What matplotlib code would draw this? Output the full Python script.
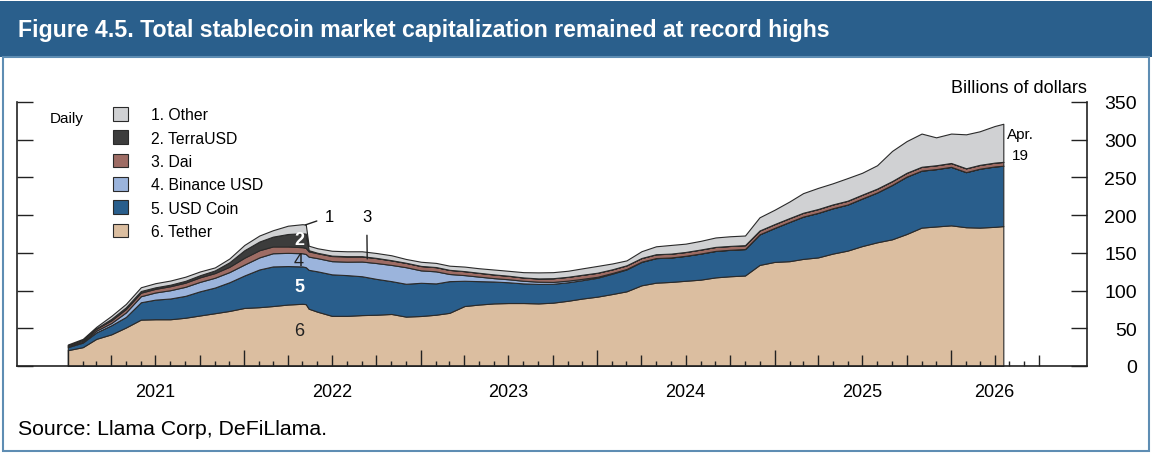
import pandas as pd
import matplotlib.pyplot as plt
import matplotlib.dates as mdates
from matplotlib.patches import Rectangle, Patch

plt.rcParams['font.family'] = ['Liberation Sans', 'DejaVu Sans']

W, H = 1158, 460


def px(x, y):
    # pixel position -> figure fraction
    return x / W, 1 - y / H


# monthly (start of month) plus a couple of extra days around the TerraUSD collapse
months = pd.date_range('2021-01-01', '2026-04-01', freq='MS')
dates = (months[:17]
         .append(pd.DatetimeIndex(['2022-05-08', '2022-05-14']))
         .append(months[17:])
         .append(pd.DatetimeIndex(['2026-04-19'])))

# billions of dollars
tether = [21, 25, 36, 42, 51, 61.5, 62, 62, 64, 67, 70, 73, 77, 78, 79.5, 81.5, 82.5,
          82, 76,
          72, 66.5, 66.5, 67.5, 68, 69, 65.5, 66.3, 68, 70.5, 79.5, 81.5, 83, 83.5, 83.5, 83,
          84, 86.5, 89.5, 92, 95.5, 99, 107, 110.5, 111.5, 113, 114.5, 117.5, 119, 120, 134,
          138, 139, 142, 144, 149, 153, 159, 164, 168, 175, 183.5, 185, 186.5, 184, 183.5,
          184.5,
          185.5]
usd_coin = [4, 6, 8.5, 12, 14, 23, 26, 27.5, 29, 32, 34, 38, 43, 50, 52.5, 51, 49.5,
            49, 51.5,
            53.5, 55, 54, 51.5, 47.5, 43.5, 43.5, 44, 41.5, 42, 33.5, 31, 29, 27.5, 26, 25.8,
            25, 24.5, 24.3, 25, 27, 29, 31, 32.5, 32.3, 33, 34.5, 35, 35, 35, 40.5,
            45, 52, 56, 59, 60, 61, 63, 66, 72, 76, 75.5, 76, 77.5, 73, 78,
            80,
            80]
binance_usd = [0.9, 1.2, 2.4, 3, 6, 8, 9.5, 11, 12, 12.5, 13, 13.5, 14.5, 16, 17.5, 17.5, 17.5,
               17.5, 17.5,
               17.5, 17.5, 17.8, 19.5, 21, 21.5, 22, 16.5, 16, 9.5, 7.5, 6, 4.5, 4, 3.5, 3,
               2.5, 2.2, 1.8, 1.3, 0.9, 0.6, 0.3, 0.1, 0.1, 0.1, 0.1, 0.1, 0.1, 0.1, 0.05,
               0.05, 0.05, 0.05, 0.05, 0.05, 0.05, 0.05, 0.05, 0.05, 0.05, 0.05, 0.05, 0.05,
               0.05, 0.05, 0.05,
               0.05]
dai = [1.2, 1.9, 2.5, 3.5, 4.5, 4.7, 4.8, 5.3, 5.5, 6, 6.2, 7, 9, 9.5, 9, 8.5, 8,
       8, 7,
       6.5, 6.8, 6.9, 6.8, 6.5, 6, 5.7, 5.7, 5.5, 5.4, 5.2, 5, 4.8, 4.6, 4.3, 4.2,
       4.8, 5, 5.3, 5.3, 4.8, 4.8, 4.8, 5, 5, 5, 5.2, 5.2, 5, 5, 5,
       5, 5, 5, 5, 5, 5, 5, 5, 5, 5, 5, 5, 5, 5, 5, 5,
       5]
terra_usd = [0.2, 0.3, 0.6, 2, 2.3, 2.2, 2, 2, 2.4, 2.8, 3.5, 6, 10, 11.5, 13, 16.5, 18.5,
             19, 1.5,
             0.6, 0.5, 0.4, 0.3, 0.3, 0.3, 0.2, 0.2, 0.2, 0.1, 0.1, 0.1, 0.1, 0.1, 0.1, 0.1,
             0.1, 0.1, 0.1, 0.1, 0.1, 0.1, 0.1, 0.1, 0.1, 0.1, 0.1, 0.1, 0.1, 0.1, 0.1,
             0.1, 0.1, 0.1, 0.1, 0.1, 0.1, 0.1, 0.1, 0.1, 0.1, 0.1, 0.1, 0.1, 0.1, 0.1, 0.1,
             0.1]
other = [1.2, 1.6, 2, 4, 4.5, 5, 5.5, 5.5, 5.5, 5, 4, 5, 7, 8, 8.5, 11, 12,
         12, 6,
         6, 6.5, 6.5, 6.5, 6.5, 6.5, 5, 5.5, 5.5, 5.5, 6, 6, 6.5, 6.5, 7, 8,
         8, 8, 8.5, 9, 7.7, 6.5, 9, 10.5, 11.5, 11, 11.5, 12.5, 12.8, 12.8, 17.5,
         19, 22, 26, 28, 28, 30, 29, 31, 40, 42, 44, 37, 39, 45, 44.5, 48.5,
         50.5]

legend_labels = ['1. Other', '2. TerraUSD', '3. Dai', '4. Binance USD', '5. USD Coin', '6. Tether']

c_tether = '#DBBEA0'
c_usdc = '#295E8C'
c_busd = '#9BB4DC'
c_dai = '#9E6C64'
c_terra = '#3C3C3C'
c_other = '#D0D1D3'
edge = '#2a2a2a'

fig = plt.figure(figsize=(W / 100, H / 100), dpi=100)

# title banner and frame
fig.patches.append(Rectangle(px(0, 58), 1152 / W, 56 / H, transform=fig.transFigure,
                             facecolor='#2A5F8C', edgecolor='none', zorder=0))
fig.patches.append(Rectangle(px(2.5, 452), 1146 / W, 394 / H, transform=fig.transFigure,
                             facecolor='none', edgecolor='#5E8DB3', lw=1.5, zorder=0))
fig.text(*px(18, 31), 'Figure 4.5. Total stablecoin market capitalization remained at record highs',
         color='white', fontsize=16.7, fontweight='bold', va='center', ha='left')

ax = fig.add_axes([17 / W, 1 - 367 / H, 1070 / W, 264 / H])
ax.stackplot(dates, tether, usd_coin, binance_usd, dai, terra_usd, other,
             colors=[c_tether, c_usdc, c_busd, c_dai, c_terra, c_other],
             edgecolor=edge, linewidth=0.8)

ax.set_xlim(pd.Timestamp('2020-09-18'), pd.Timestamp('2026-10-09'))
ax.set_ylim(0, 350)

for side in ['left', 'right', 'bottom']:
    ax.spines[side].set_linewidth(1.2)
    ax.spines[side].set_color('#222222')
ax.spines['top'].set_visible(False)

# y axis: ticks both sides, labels on the right only
ax.set_yticks(range(0, 351, 50))
ax.tick_params(axis='y', direction='in', length=11.5, width=1, color='#222222',
               left=True, right=True, labelleft=False, labelright=True,
               labelsize=14, pad=36)
for t in ax.yaxis.get_major_ticks():
    t.label2.set_horizontalalignment('right')

# x axis: quarterly major ticks (years taller), monthly minor ticks
quarters = pd.date_range('2021-01-01', '2026-07-01', freq='QS')
month_ticks = pd.date_range('2021-01-01', '2026-07-01', freq='MS')
q_labels = []
for d in quarters:
    if d.month == 7 and d.year < 2026:
        q_labels.append(str(d.year))
    elif d.year == 2026 and d.month == 4:
        q_labels.append('2026')
    else:
        q_labels.append('')
ax.set_xticks(mdates.date2num(quarters), labels=q_labels)
ax.set_xticks(mdates.date2num(month_ticks), minor=True)
ax.tick_params(axis='x', which='major', direction='in', length=8, width=1,
               color='#222222', labelsize=13, pad=12.5)
ax.tick_params(axis='x', which='minor', direction='in', length=3.6, width=1,
               color='#222222')
for d, t in zip(quarters, ax.xaxis.get_major_ticks()):
    if d.month == 1:
        t.tick1line.set_markersize(11.5)

ax.text(1.0, 1.022, 'Billions of dollars', transform=ax.transAxes,
        ha='right', va='bottom', fontsize=13)
ax.text(*px(50, 119), 'Daily', transform=fig.transFigure, ha='left', va='center', fontsize=11)

# legend, listed top layer first
handles = [Patch(facecolor=c, edgecolor=edge, lw=0.8)
           for c in [c_other, c_terra, c_dai, c_busd, c_usdc, c_tether]]
fig.legend(handles, legend_labels, loc='upper left', bbox_to_anchor=px(113, 108),
           frameon=False, fontsize=11.3, handlelength=0.96, handleheight=0.96,
           handletextpad=1.45, labelspacing=0.52, borderpad=0, borderaxespad=0)

# in-chart labels
lab_x = pd.Timestamp('2022-04-24')
ax.text(lab_x, 168, '2', color='white', fontsize=13, fontweight='bold', ha='center', va='center')
ax.text(lab_x, 140, '4', color='#222222', fontsize=13, ha='center', va='center')
ax.text(lab_x, 106, '5', color='white', fontsize=13, fontweight='bold', ha='center', va='center')
ax.text(lab_x, 47, '6', color='#222222', fontsize=13, ha='center', va='center')

ax.annotate('1', xy=(pd.Timestamp('2022-05-07'), 187), xytext=(pd.Timestamp('2022-06-26'), 198),
            ha='center', va='center', fontsize=12,
            arrowprops=dict(arrowstyle='-', lw=1, color='#222222', shrinkA=4, shrinkB=0))
ax.annotate('3', xy=(pd.Timestamp('2022-09-12'), 142), xytext=(pd.Timestamp('2022-09-11'), 198),
            ha='center', va='center', fontsize=12,
            arrowprops=dict(arrowstyle='-', lw=1, color='#222222', shrinkA=6, shrinkB=0))

ax.text(pd.Timestamp('2026-05-24'), 294, 'Apr.\n19', ha='center', va='center',
        fontsize=11, linespacing=1.6)

fig.text(*px(18, 430), 'Source: Llama Corp, DeFiLlama.', fontsize=15.3, ha='left', va='center')

fig.savefig('out.png', dpi=100)
